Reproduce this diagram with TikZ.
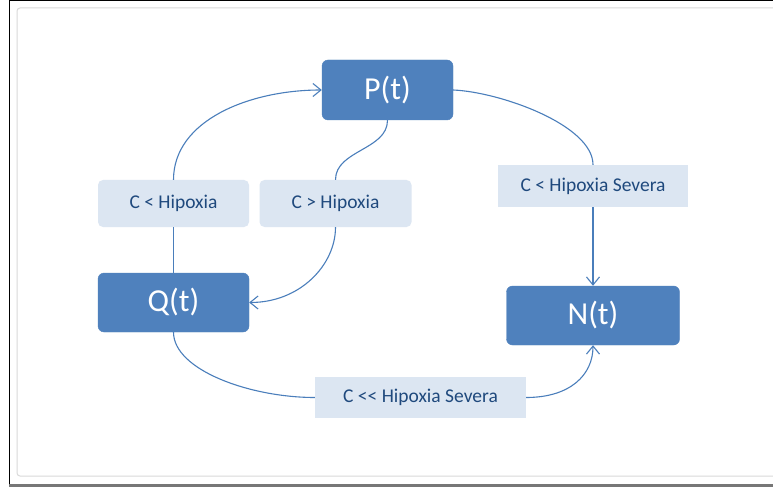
\documentclass[tikz,border=0pt]{standalone}
\usepackage{fontspec}
\setmainfont{Carlito}
\usetikzlibrary{arrows.meta}
\definecolor{boxblue}{HTML}{4F81BD}
\definecolor{lblfill}{HTML}{DCE6F2}
\definecolor{lineblue}{HTML}{4A7EBB}
\definecolor{textdark}{HTML}{1F497D}
\definecolor{framegray}{HTML}{777777}
\definecolor{innergray}{HTML}{DADADA}
\begin{document}
\begin{tikzpicture}[x=1pt,y=-1pt,
  statebox/.style={fill=boxblue, draw=boxblue, rounded corners=6pt, text=white,
    font=\fontsize{32}{36}\selectfont, inner sep=0pt},
  condbox/.style={fill=lblfill, draw=none, text=textdark,
    font=\fontsize{19.5}{22}\selectfont, inner sep=0pt},
  link/.style={draw=lineblue, line width=1.1pt},
  arr/.style={-{Straight Barb[length=8pt,width=13pt,line width=1.1pt]}}]
\useasboundingbox (0,0) rectangle (773,489);
\begin{scope}
\clip (0,0) rectangle (773,489);
\fill[white] (0,0) rectangle (773,489);
\draw[innergray, line width=1pt, rounded corners=3pt] (17,8) rectangle (790,476);
\draw[black, line width=1.3pt] (9.5,485) -- (9.5,0.6) -- (780,0.6);
\draw[framegray, line width=2.2pt] (8.8,485.4) -- (780,485.4);
\end{scope}

\node[statebox, minimum width=131pt, minimum height=60pt] (P) at (387.5,90) {P(t)};
\node[statebox, minimum width=151pt, minimum height=59pt] (Q) at (173.5,302.5) {Q(t)};
\node[statebox, minimum width=173pt, minimum height=59pt] (N) at (593,315.5) {N(t)};

\node[condbox, rounded corners=5pt, minimum width=151pt, minimum height=47pt] (c1) at (173.5,203.5) {C < Hipoxia};
\node[condbox, rounded corners=5pt, minimum width=152pt, minimum height=47pt] (c2) at (335.5,203.5) {C > Hipoxia};
\node[condbox, minimum width=190pt, minimum height=42pt] (c3) at (593,186) {C < Hipoxia Severa};
\node[condbox, minimum width=211pt, minimum height=41pt] (c4) at (420.5,397.5) {C <\kern0pt< Hipoxia Severa};

% Q -> P via C < Hipoxia
\draw[link] (Q.north) -- (c1.south);
\draw[link, arr] (c1.north) .. controls (173.5,120) and (250,90) .. (P.west);
% P -> Q via C > Hipoxia
\draw[link] (P.south) .. controls (387.5,150) and (335.5,150) .. (c2.north);
\draw[link, arr] (c2.south) .. controls (335.5,265) and (300,302.5) .. (Q.east);
% P -> N via C < Hipoxia Severa
\draw[link] (P.east) .. controls (500,92) and (593,125) .. (c3.north);
\draw[link, arr] (c3.south) -- (N.north);
% Q -> N via C << Hipoxia Severa
\draw[link] (Q.south) .. controls (173.5,370) and (250,397.5) .. (c4.west);
\draw[link, arr] (c4.east) .. controls (570,397.5) and (593,375) .. (N.south);
\end{tikzpicture}
\end{document}
